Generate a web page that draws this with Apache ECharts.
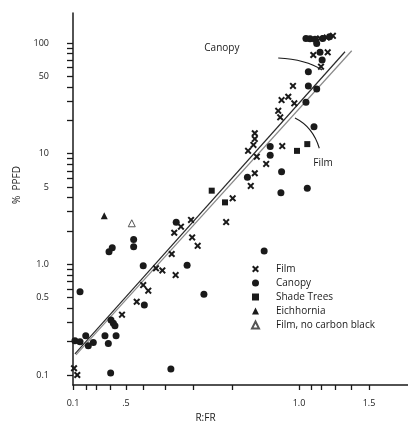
<!DOCTYPE html>
<html><head><meta charset="utf-8">
<script src="https://cdn.jsdelivr.net/npm/echarts@6/dist/echarts.min.js"></script>
<style>html,body{margin:0;padding:0;background:#fff}#c{width:408px;height:421px}</style>
</head><body><div id="c"></div>
<script>
// ---- axis definitions ----
// R:FR tick values and the (non-linear) axis scale unit at which each is printed
const xTickValues = [0.1,0.2,0.3,0.4,0.5,0.6,0.7,0.8,0.9,1.0,1.1,1.2,1.3,1.4,1.5];
const xTickScale  = [0,13,23,37,53,70,92,120,159,226,238,248,262,278,296];
const xLabelValues = [0.1,0.5,1.0,1.5];
const xLabelText   = ['0.1','.5','1.0','1.5'];
const yLabelValues = [0.1,0.5,1,5,10,50,100];
const yLabelText   = ['0.1','0.5','1.0','5','10','50','100'];

// ---- data (R:FR, % PPFD) ----
const filmX = [0.108,0.133,0.475,0.563,0.601,0.624,0.659,0.688,0.724,0.738,0.733,0.757,0.793,0.797,0.812,0.885,0.901,0.928,0.934,0.951,0.937,0.924,0.932,0.934,0.934,0.975,0.969,0.972,0.974,0.984,0.993,0.991,1.2,1.123,1.248,1.19,1.241,1.285];
const filmY = [0.115,0.100,0.351,0.459,0.65,0.578,0.92,0.88,1.24,0.80,1.93,2.19,2.52,1.75,1.47,2.41,3.95,5.11,6.65,8.07,9.4,10.6,12.0,13.6,15.3,11.7,24.4,21.3,30.5,32.7,28.5,40.9,61.1,77.9,82.4,110,112,116];
const canopyX = [0.115,0.154,0.198,0.223,0.273,0.154,0.364,0.388,0.438,0.404,0.406,0.421,0.431,0.393,0.414,0.545,0.545,0.601,0.606,0.721,0.779,0.740,0.828,0.923,0.957,0.957,0.974,0.973,1.069,1.13,1.058,1.078,1.157,1.078,1.208,1.19,1.058,1.092,1.14,1.157,1.212,1.261,0.948];
const canopyY = [0.204,0.200,0.226,0.184,0.197,0.566,0.226,0.193,0.226,0.104,0.314,0.293,0.279,1.30,1.41,1.68,1.44,0.97,0.429,0.113,0.98,2.40,0.536,6.12,11.6,9.7,6.87,4.44,4.87,17.5,29.1,40.9,38.4,55.0,70.2,82.4,110,109,108,99,110,114,1.32];
const shadeX = [0.848,0.882,0.997,1.069];
const shadeY = [4.63,3.63,10.6,12.2];
const eichX = [0.359];
const eichY = [2.75];
const noCarbonX = [0.534];
const noCarbonY = [2.35];
// fitted lines (end points)
const canopyLineX = [0.115,1.3625];
const canopyLineY = [0.155,83.4];
const filmLineX = [0.123,1.404];
const filmLineY = [0.152,85.1];
// annotations [R:FR, %PPFD]
const canopyText = [0.874,90.2];
const canopyArc = [[0.969,73.1],[1.058,71.1],[1.207,57.0]];
const filmText = [1.214,8.23];
const filmArc = [[0.994,21.0],[1.118,17.5],[1.183,11.2]];

// ---- scale helpers ----
function toScale(r){
  const v=xTickValues, s=xTickScale; let i=0;
  if (r>=v[v.length-1]) i=v.length-2; else if (r>v[0]) { while (r>v[i+1]) i++; }
  return s[i]+(r-v[i])*(s[i+1]-s[i])/(v[i+1]-v[i]);
}
const pts=(xs,ys)=>xs.map((x,i)=>[toScale(x),ys[i]]);
const yTickValues=[];
[0.1,1,10].forEach(d=>{for(let k=1;k<10;k++) yTickValues.push(+(k*d).toPrecision(3));});
yTickValues.push(100);

const FONT='"Open Sans", "DejaVu Sans", sans-serif';
const INK='#1a1a1a';
const crossPath='path://M0,2L2,0L5,3L8,0L10,2L7,5L10,8L8,10L5,7L2,10L0,8L3,5Z';

const chart=echarts.init(document.getElementById('c'));
chart.setOption({
  animation:false,
  backgroundColor:'#fff',
  grid:{left:73,right:0,top:13,bottom:36,containLabel:false,outerBoundsMode:'none'},
  xAxis:{
    type:'value',min:0,max:335,
    name:'R:FR',nameLocation:'middle',nameGap:26,
    nameTextStyle:{fontFamily:FONT,fontSize:10,color:INK,padding:[0,70,0,0]},
    axisLine:{lineStyle:{color:INK,width:1.5}},
    axisTick:{show:true,inside:false,length:5,lineStyle:{color:INK,width:1.3},customValues:xTickValues.map(toScale)},
    axisLabel:{margin:14,fontFamily:FONT,fontSize:9,color:INK,customValues:xLabelValues.map(toScale),
      formatter:function(v){let b=0;xLabelValues.forEach((l,i)=>{if(Math.abs(toScale(l)-v)<Math.abs(toScale(xLabelValues[b])-v))b=i;});return xLabelText[b];}},
    splitLine:{show:false}
  },
  yAxis:{
    type:'log',logBase:10,min:0.0812,max:186.7,
    name:'%  PPFD',nameLocation:'middle',nameGap:51,nameRotate:90,
    nameTextStyle:{fontFamily:FONT,fontSize:10,color:INK,padding:[0,0,0,28]},
    axisLine:{lineStyle:{color:INK,width:1.5}},
    axisTick:{show:true,inside:false,length:6,lineStyle:{color:INK,width:1.3},customValues:yTickValues},
    axisLabel:{margin:24,fontFamily:FONT,fontSize:9,color:INK,customValues:yLabelValues,
      formatter:function(v){let b=0;yLabelValues.forEach((l,i)=>{if(Math.abs(Math.log10(l/v))<Math.abs(Math.log10(yLabelValues[b]/v)))b=i;});return yLabelText[b];}},
    splitLine:{show:false},minorTick:{show:false}
  },
  legend:{
    orient:'vertical',left:246,top:257,itemWidth:7,itemHeight:7,itemGap:0,
    textStyle:{fontFamily:FONT,fontSize:10,color:INK,lineHeight:14,padding:[0,0,0,12]},
    data:['Film','Canopy','Shade Trees','Eichhornia','Film, no carbon black']
  },
  series:[
    {type:'line',data:pts(canopyLineX,canopyLineY),symbol:'none',lineStyle:{color:'#2a2a2a',width:1.2},silent:true,z:1},
    {type:'line',data:pts(filmLineX,filmLineY),symbol:'none',lineStyle:{color:'#8a8a8a',width:1.2},silent:true,z:1},
    {name:'Film',type:'scatter',data:pts(filmX,filmY),symbol:crossPath,symbolSize:7,symbolKeepAspect:true,itemStyle:{color:INK,opacity:1},z:3},
    {name:'Canopy',type:'scatter',data:pts(canopyX,canopyY),symbol:'circle',symbolSize:7,itemStyle:{color:INK,opacity:1},z:3},
    {name:'Shade Trees',type:'scatter',data:pts(shadeX,shadeY),symbol:'rect',symbolSize:6,itemStyle:{color:INK,opacity:1},z:3},
    {name:'Eichhornia',type:'scatter',data:pts(eichX,eichY),symbol:'triangle',symbolSize:7,itemStyle:{color:INK,opacity:1},z:3},
    {name:'Film, no carbon black',type:'scatter',data:pts(noCarbonX,noCarbonY),symbol:'triangle',symbolSize:7,itemStyle:{color:'#fff',borderColor:'#555',borderWidth:1,opacity:1},z:3}
  ]
});

const px=p=>chart.convertToPixel({xAxisIndex:0,yAxisIndex:0},[toScale(p[0]),p[1]]);
function arc(a){const p0=px(a[0]),c=px(a[1]),p1=px(a[2]);
  return {type:'bezierCurve',silent:true,shape:{x1:p0[0],y1:p0[1],cpx1:c[0],cpy1:c[1],x2:p1[0],y2:p1[1]},style:{stroke:INK,lineWidth:1.1,fill:null}};}
const ct=px(canopyText), ft=px(filmText);
chart.setOption({graphic:[
  arc(canopyArc),arc(filmArc),
  {type:'text',silent:true,x:ct[0],y:ct[1],style:{text:'Canopy',font:'10px '+FONT,fill:INK,align:'center',verticalAlign:'middle'}},
  {type:'text',silent:true,x:ft[0],y:ft[1],style:{text:'Film',font:'10px '+FONT,fill:INK,align:'center',verticalAlign:'middle'}}
]});
</script></body></html>
